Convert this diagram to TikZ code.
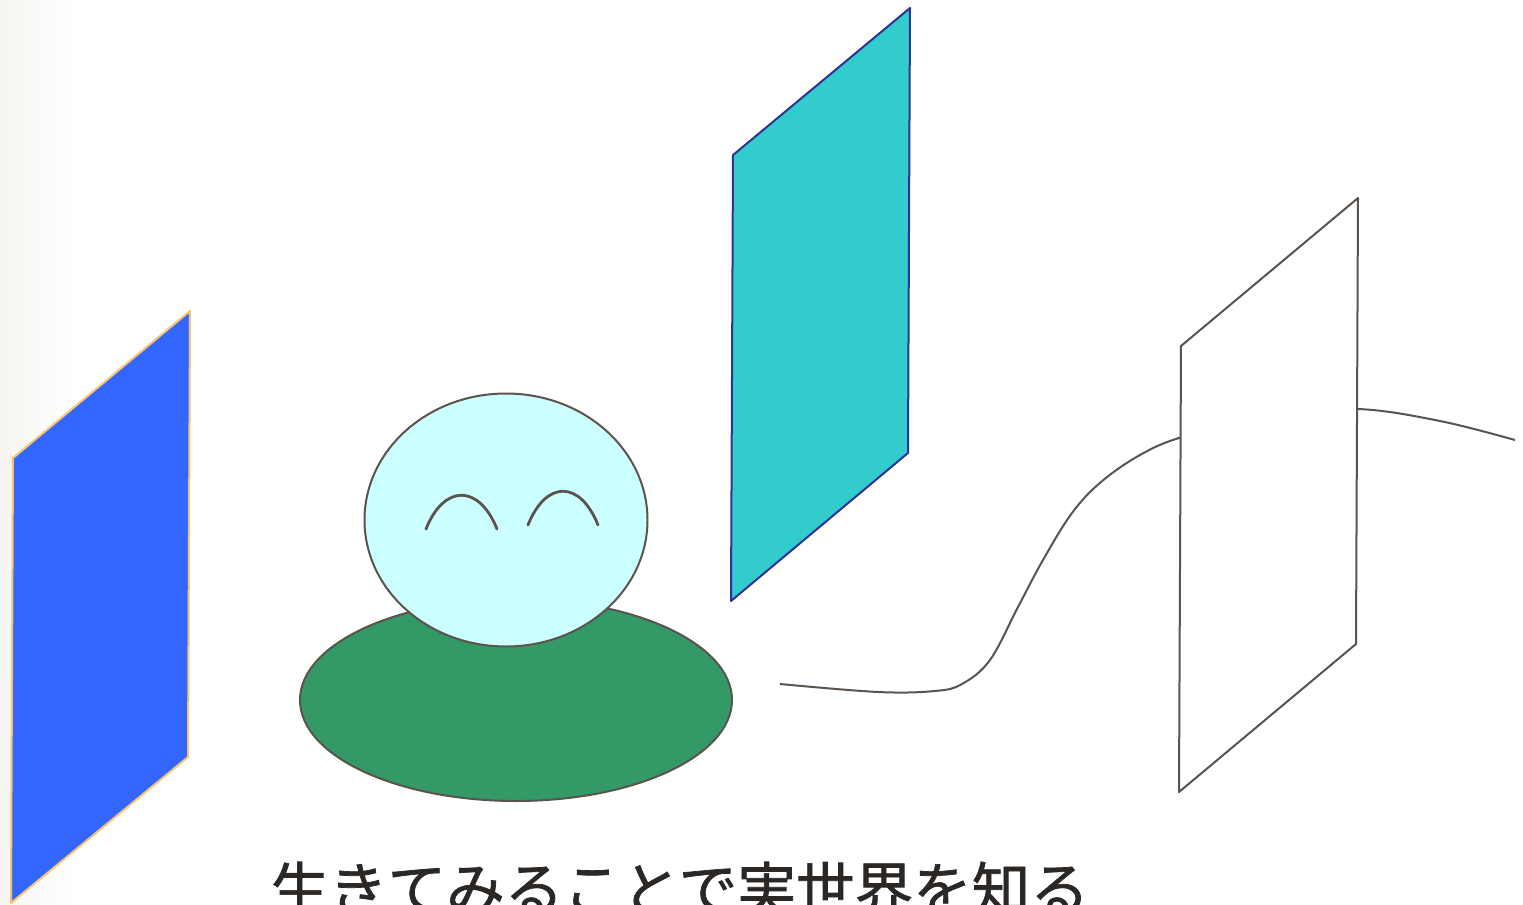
\documentclass[tikz,border=0pt]{standalone}
\usepackage{fontspec}
\newfontfamily\cjk[FakeBold=1.2]{Noto Sans CJK JP}
\definecolor{panelblue}{HTML}{3366FF}
\definecolor{panelcyan}{HTML}{33CCCC}
\definecolor{edgeorange}{HTML}{F7C572}
\definecolor{edgenavy}{HTML}{2B3399}
\definecolor{ink}{HTML}{5A534E}
\definecolor{bodygreen}{HTML}{339966}
\definecolor{headcyan}{HTML}{CCFFFF}
\definecolor{textdark}{HTML}{2B2725}
\definecolor{paper}{HTML}{F6F5F2}
\tikzset{
  outline/.style={draw=ink, line width=1pt, line join=round},
  eyeline/.style={draw=ink, line width=1.4pt, line cap=round},
}
\begin{document}
\begin{tikzpicture}[x=0.5pt,y=-0.5pt]
  \useasboundingbox (0,0) rectangle (1523,905);
  \clip (0,0) rectangle (1523,905);
  % paper background with a soft shade along the left edge
  \fill[white] (0,0) rectangle (1523,905);
  \shade[left color=paper, right color=white] (0,0) rectangle (75,905);

  % blue panel
  \filldraw[fill=panelblue, draw=edgeorange, line width=1pt, line join=round]
    (13,458) -- (190,311) -- (188,757) -- (11,903) -- cycle;

  % cyan panel
  \filldraw[fill=panelcyan, draw=edgenavy, line width=1pt, line join=round]
    (733,155) -- (910,8) -- (908,453) -- (731,601) -- cycle;

  % winding thread running behind the white panel
  \draw[ink, line width=1pt] plot[smooth, tension=0.6] coordinates {
    (780,684) (878,692) (935,691) (962,684) (990,660) (1018,607)
    (1043,560) (1072,513) (1101,482) (1140,455) (1182,437)
    (1270,414) (1358,409) (1440,421) (1515,440)};

  % white panel
  \filldraw[fill=white, outline]
    (1181,346) -- (1358,198) -- (1356,644) -- (1179,792) -- cycle;

  % figure: body and head
  \filldraw[fill=bodygreen, outline] (516,700) ellipse [x radius=216, y radius=101];
  \filldraw[fill=headcyan, outline] (506,520) ellipse [x radius=141.5, y radius=126.5];

  % closed, smiling eyes
  \draw[eyeline] (426,529) .. controls (444,484) and (479,484) .. (497,529);
  \draw[eyeline] (528,525) .. controls (546,480) and (580,480) .. (598,525);

  % caption
  \node[anchor=base west, inner sep=0pt, text=textdark,
        font=\cjk\fontsize{29.3}{34}\selectfont] (caption) at (270,911)
    {生きてみることで実世界を知る};
\end{tikzpicture}
\end{document}
